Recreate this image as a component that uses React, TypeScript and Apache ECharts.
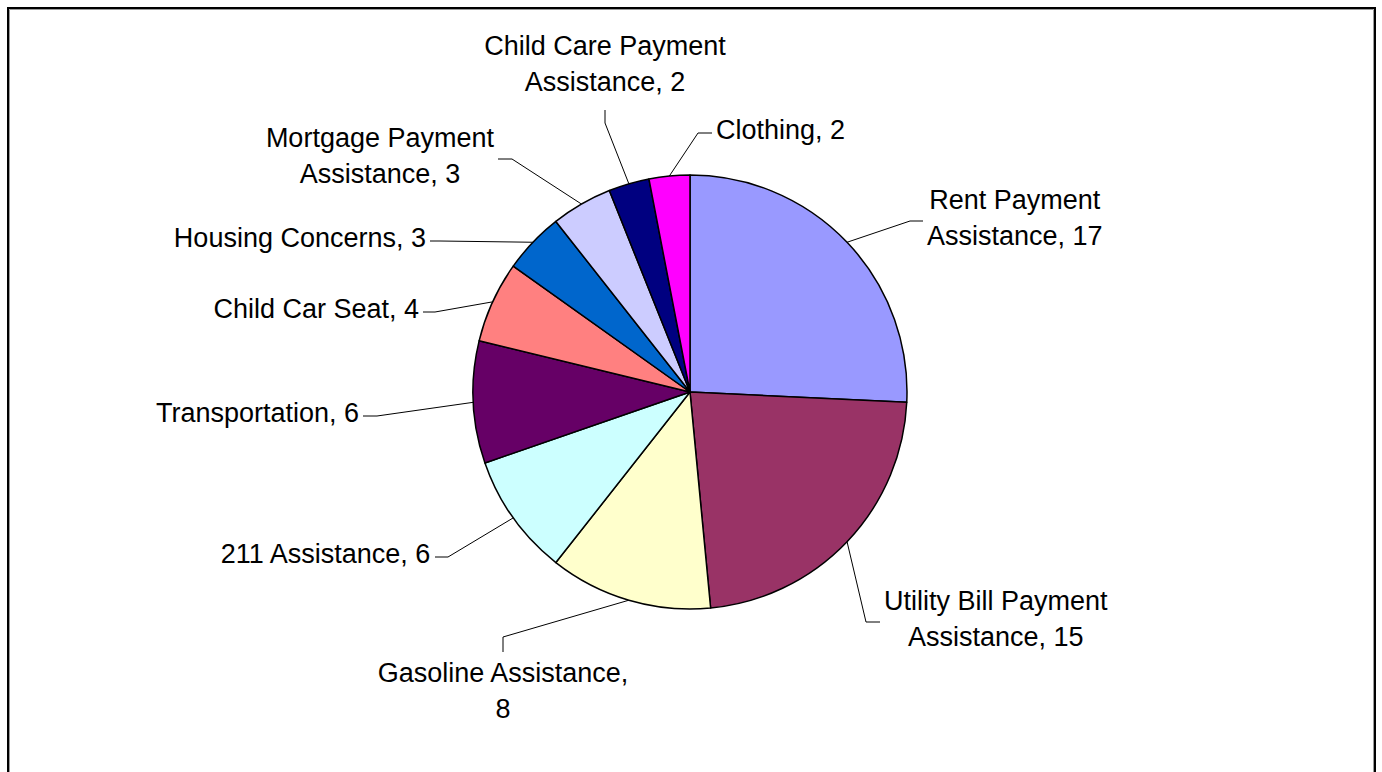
import React, { useEffect, useRef } from "react";
import * as echarts from "echarts";

// ---- data ----
const categories = [
  "Rent Payment Assistance",
  "Utility Bill Payment Assistance",
  "Gasoline Assistance",
  "211 Assistance",
  "Transportation",
  "Child Car Seat",
  "Housing Concerns",
  "Mortgage Payment Assistance",
  "Child Care Payment Assistance",
  "Clothing",
];
const values = [17, 15, 8, 6, 6, 4, 3, 3, 2, 2];
const colors = [
  "#9999FF",
  "#993366",
  "#FFFFCC",
  "#CCFFFF",
  "#660066",
  "#FF8080",
  "#0066CC",
  "#CCCCFF",
  "#000080",
  "#FF00FF",
];

// ---- layout / style (not data) ----
const W = 1382;
const H = 772;
const CENTER: [number, number] = [690, 392];
const RADIUS = 217;
const FONT_SIZE = 27;
const LINE_HEIGHT = 36;
const FONT_FAMILY = '"Liberation Sans", Arial, sans-serif';
const WRAP_WIDTH = 262;

type Side = "right" | "left" | "below" | "above";
// label guide: knee point, end point, side of text relative to end
const LABEL_GUIDES: { knee: [number, number]; end: [number, number]; side: Side }[] = [
  { knee: [910, 221], end: [923, 221], side: "right" },
  { knee: [866, 622], end: [880, 622], side: "right" },
  { knee: [503, 637], end: [503, 652], side: "below" },
  { knee: [448, 557], end: [435, 557], side: "left" },
  { knee: [377, 416], end: [363, 416], side: "left" },
  { knee: [435, 312], end: [423, 312], side: "left" },
  { knee: [440, 241], end: [430, 241], side: "left" },
  { knee: [512, 159], end: [498, 159], side: "left" },
  { knee: [605, 123], end: [605, 110], side: "above" },
  { knee: [698, 133], end: [712, 133], side: "right" },
];

function makeWrapper() {
  const canvas = document.createElement("canvas");
  const ctx = canvas.getContext("2d");
  if (ctx) ctx.font = `${FONT_SIZE}px ${FONT_FAMILY}`;
  const measure = (s: string) => (ctx ? ctx.measureText(s).width : s.length * FONT_SIZE * 0.5);
  return (text: string) => {
    const words = text.split(" ");
    const lines: string[] = [];
    let cur = "";
    for (const w of words) {
      const test = cur ? cur + " " + w : w;
      if (cur && measure(test) > WRAP_WIDTH) {
        lines.push(cur);
        cur = w;
      } else {
        cur = test;
      }
    }
    if (cur) lines.push(cur);
    return lines.join("\n");
  };
}

export default function App() {
  const ref = useRef<HTMLDivElement>(null);

  useEffect(() => {
    if (!ref.current) return;
    const chart = echarts.init(ref.current, undefined, { renderer: "svg" });
    const wrap = makeWrapper();
    const total = values.reduce((a, b) => a + b, 0);

    const edgePoint = (idx: number): [number, number] => {
      let before = 0;
      for (let i = 0; i < idx; i++) before += values[i];
      const mid = ((before + values[idx] / 2) / total) * Math.PI * 2;
      return [CENTER[0] + RADIUS * Math.sin(mid), CENTER[1] - RADIUS * Math.cos(mid)];
    };

    chart.setOption({
      animation: false,
      backgroundColor: "#ffffff",
      graphic: [
        {
          type: "rect",
          shape: { x: 8, y: 8, width: 1367, height: 1000 },
          style: { fill: "none", stroke: "#000000", lineWidth: 2 },
          silent: true,
        },
        {
          type: "rect",
          shape: { x: 9.5, y: 9.5, width: 1364, height: 1000 },
          style: { fill: "none", stroke: "#9a9a9a", lineWidth: 1 },
          silent: true,
        },
      ],
      series: [
        {
          type: "pie",
          center: CENTER,
          radius: RADIUS,
          startAngle: 90,
          clockwise: true,
          avoidLabelOverlap: false,
          data: categories.map((name, i) => ({
            name,
            value: values[i],
            itemStyle: { color: colors[i] },
          })),
          itemStyle: { borderColor: "#000000", borderWidth: 1.5 },
          label: {
            show: true,
            position: "outside",
            color: "#000000",
            fontFamily: FONT_FAMILY,
            fontSize: FONT_SIZE,
            lineHeight: LINE_HEIGHT,
            align: "center",
            formatter: (p: any) => wrap(`${p.name}, ${p.value}`),
          },
          labelLine: {
            show: true,
            length: 20,
            length2: 10,
            lineStyle: { color: "#000000", width: 1 },
          },
          emphasis: { disabled: true },
          labelLayout: (params: any) => {
            const g = LABEL_GUIDES[params.dataIndex];
            const w = params.labelRect.width;
            const h = params.labelRect.height;
            const gap = 4;
            let x = 0;
            let y = 0;
            if (g.side === "right") {
              x = g.end[0] + gap + w / 2;
              y = g.end[1] - 3;
            } else if (g.side === "left") {
              x = g.end[0] - gap - w / 2;
              y = g.end[1] - 3;
            } else if (g.side === "below") {
              x = g.end[0];
              y = g.end[1] + 3 + h / 2;
            } else {
              x = g.end[0];
              y = g.end[1] - 10 - h / 2;
            }
            const p0 =
              params.labelLinePoints && params.labelLinePoints[0]
                ? params.labelLinePoints[0]
                : edgePoint(params.dataIndex);
            return {
              x,
              y,
              align: "center",
              verticalAlign: "middle",
              labelLinePoints: [p0, g.knee, g.end],
            };
          },
        },
      ],
    });

    return () => {
      chart.dispose();
    };
  }, []);

  return (
    <div
      ref={ref}
      style={{ position: "fixed", left: 0, top: 0, width: W, height: H, background: "#fff" }}
    />
  );
}
